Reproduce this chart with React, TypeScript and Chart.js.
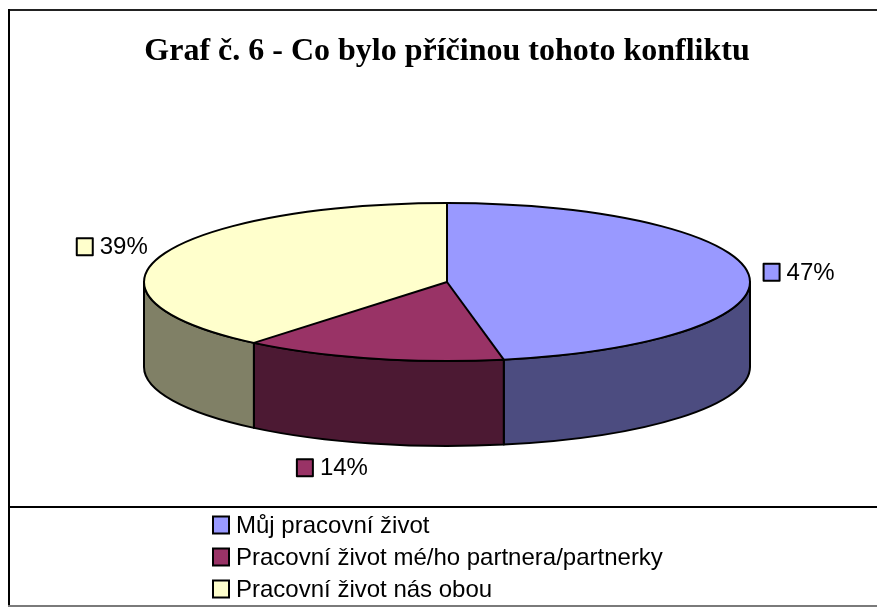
import React, { useEffect, useRef } from "react";
import { Chart, registerables } from "chart.js";

Chart.register(...registerables);

const TITLE = "Graf č. 6 - Co bylo příčinou tohoto konfliktu";
const categories = [
  "Můj pracovní život",
  "Pracovní život mé/ho partnera/partnerky",
  "Pracovní život nás obou",
];
const shares = [47, 14, 39];
const pctLabels = ["47%", "14%", "39%"];
const topColors = ["#9999FF", "#993366", "#FFFFCC"];
const sideColors = ["#4C4C80", "#4C1933", "#808066"];

const SANS = '"Liberation Sans", Arial, sans-serif';
const SERIF = '"Liberation Serif", "Times New Roman", serif';

// 3D pie projection geometry
const GEO = { cx: 447, cy: 282, rx: 303, ry: 79, depth: 85 };
const LEGEND = { boxX: 213, textX: 236, rows: [525, 557, 589] };

const pie3d = {
  id: "pie3d",
  beforeDraw(chart: any) {
    const ctx = chart.ctx;
    ctx.save();
    ctx.fillStyle = "#ffffff";
    ctx.fillRect(0, 0, chart.width, chart.height);
    ctx.restore();
  },
  beforeDatasetsDraw(chart: any) {
    const meta = chart.getDatasetMeta(0);
    const ctx = chart.ctx;
    const { cx, cy, rx, ry, depth } = GEO;
    ctx.save();
    ctx.lineWidth = 2;
    ctx.strokeStyle = "#000";
    ctx.lineJoin = "round";
    meta.data.forEach((arc: any, i: number) => {
      const { startAngle, endAngle } = arc.getProps(["startAngle", "endAngle"], true);
      const segs = [
        [0, Math.PI],
        [2 * Math.PI, 3 * Math.PI],
        [-2 * Math.PI, -Math.PI],
      ];
      for (const [lo, hi] of segs) {
        const p = Math.max(startAngle, lo);
        const q = Math.min(endAngle, hi);
        if (q - p > 1e-6) {
          ctx.beginPath();
          ctx.ellipse(cx, cy, rx, ry, 0, p, q, false);
          ctx.lineTo(cx + rx * Math.cos(q), cy + depth + ry * Math.sin(q));
          ctx.ellipse(cx, cy + depth, rx, ry, 0, q, p, true);
          ctx.closePath();
          ctx.fillStyle = sideColors[i];
          ctx.fill();
          ctx.stroke();
        }
      }
    });
    ctx.restore();
  },
  beforeDatasetDraw(chart: any, args: any) {
    const arc = args.meta.data[0];
    const { x, y, outerRadius } = arc.getProps(["x", "y", "outerRadius"], true);
    const ctx = chart.ctx;
    ctx.save();
    ctx.translate(GEO.cx, GEO.cy);
    ctx.scale(GEO.rx / outerRadius, GEO.ry / outerRadius);
    ctx.translate(-x, -y);
  },
  afterDatasetDraw(chart: any) {
    chart.ctx.restore();
  },
  afterDatasetsDraw(chart: any) {
    const meta = chart.getDatasetMeta(0);
    const ctx = chart.ctx;
    const { cx, cy, rx, ry, depth } = GEO;
    ctx.save();
    ctx.lineWidth = 2;
    ctx.strokeStyle = "#000";
    ctx.lineJoin = "round";
    // radial edges
    meta.data.forEach((arc: any) => {
      const { startAngle } = arc.getProps(["startAngle"], true);
      ctx.beginPath();
      ctx.moveTo(cx, cy);
      ctx.lineTo(cx + rx * Math.cos(startAngle), cy + ry * Math.sin(startAngle));
      ctx.stroke();
    });
    // top rim
    ctx.beginPath();
    ctx.ellipse(cx, cy, rx, ry, 0, 0, Math.PI * 2);
    ctx.stroke();

    // percentage labels
    ctx.font = `24px ${SANS}`;
    ctx.textBaseline = "middle";
    ctx.textAlign = "left";
    meta.data.forEach((arc: any, i: number) => {
      const { startAngle, endAngle } = arc.getProps(["startAngle", "endAngle"], true);
      const m = (startAngle + endAngle) / 2;
      const c = Math.cos(m);
      const s = Math.sin(m);
      const d = 15;
      const ax = cx + (rx + d) * c;
      const ay = cy + (ry + d) * s + (s > 0 ? depth : 0) + 10 * s;
      const text = pctLabels[i];
      const tw = ctx.measureText(text).width;
      const total = 16 + 7 + tw;
      const left = c >= 0 ? ax : ax - total;
      ctx.fillStyle = topColors[i];
      ctx.fillRect(left, ay - 8.5, 16, 17);
      ctx.lineWidth = 2;
      ctx.strokeRect(left, ay - 8.5, 16, 17);
      ctx.fillStyle = "#000";
      ctx.fillText(text, left + 23, ay + 1);
    });
    ctx.restore();
  },
  afterDraw(chart: any) {
    const ctx = chart.ctx;
    ctx.save();
    // frame
    ctx.fillStyle = "#222";
    ctx.fillRect(8, 9, 869, 2);
    ctx.fillStyle = "#000";
    ctx.fillRect(8, 9, 2, 598);
    ctx.fillRect(8, 506, 869, 2);
    ctx.fillStyle = "#7a7a7a";
    ctx.fillRect(8, 605, 869, 2);
    // legend
    const labels = chart.data.labels as string[];
    ctx.font = `24px ${SANS}`;
    ctx.textBaseline = "middle";
    ctx.textAlign = "left";
    labels.forEach((lab, i) => {
      const y = LEGEND.rows[i];
      ctx.fillStyle = topColors[i];
      ctx.fillRect(LEGEND.boxX, y - 8.5, 16, 17);
      ctx.strokeStyle = "#000";
      ctx.lineWidth = 2;
      ctx.strokeRect(LEGEND.boxX, y - 8.5, 16, 17);
      ctx.fillStyle = "#000";
      ctx.fillText(lab, LEGEND.textX, y + 1);
    });
    ctx.restore();
  },
};

export default function App() {
  const ref = useRef<HTMLCanvasElement | null>(null);
  useEffect(() => {
    if (!ref.current) return;
    const chart = new Chart(ref.current, {
      type: "pie",
      data: {
        labels: categories,
        datasets: [
          {
            data: shares,
            backgroundColor: topColors,
            borderWidth: 0,
            clip: false,
          } as any,
        ],
      },
      options: {
        responsive: false,
        animation: false,
        layout: { padding: { left: 17, right: 0, top: 0, bottom: 120 } },
        plugins: {
          title: {
            display: true,
            text: TITLE,
            color: "#000",
            font: { family: SERIF, size: 32, weight: "bold" },
            padding: { top: 33, bottom: 10 },
          },
          legend: { display: false },
          tooltip: { enabled: false },
        },
      } as any,
      plugins: [pie3d],
    });
    return () => chart.destroy();
  }, []);
  return (
    <div style={{ position: "fixed", left: 0, top: 0, width: 877, height: 608, background: "#fff" }}>
      <canvas ref={ref} width={877} height={608} style={{ display: "block", width: 877, height: 608 }} />
    </div>
  );
}
